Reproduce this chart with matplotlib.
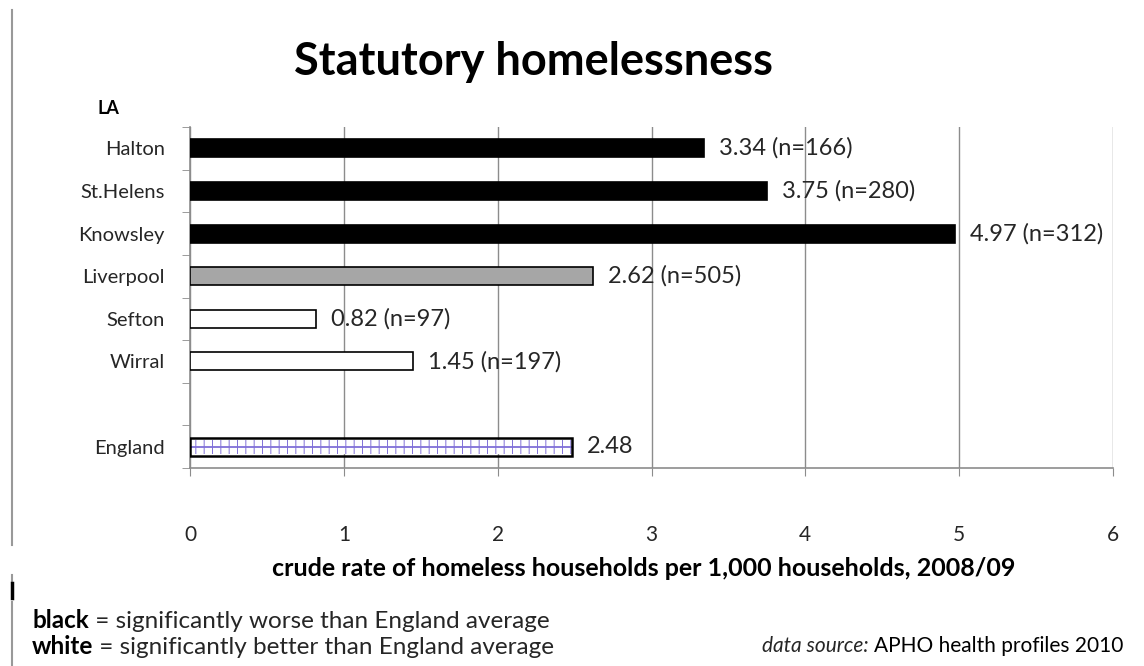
import matplotlib
matplotlib.use("Agg")
import matplotlib.pyplot as plt
from matplotlib.lines import Line2D
import numpy as np

categories = ["Halton", "St.Helens", "Knowsley", "Liverpool", "Sefton", "Wirral", "", "England"]
values = [3.34, 3.75, 4.97, 2.62, 0.82, 1.45, None, 2.48]
labels = ["3.34 (n=166)", "3.75 (n=280)", "4.97 (n=312)", "2.62 (n=505)", "0.82 (n=97)", "1.45 (n=197)", "", "2.48"]
fills = ["black", "black", "black", "#a6a6a6", "white", "white", None, "white"]
xticks = [0, 1, 2, 3, 4, 5, 6]

plt.rcParams['font.family'] = ['Lato', 'DejaVu Sans']
plt.rcParams['hatch.linewidth'] = 0.7

W, H = 1144, 666
fig = plt.figure(figsize=(W/100, H/100), dpi=100)
ax = fig.add_axes([190/W, 1 - 468/H, (1113 - 190)/W, (468 - 127)/H])

n = len(categories)
ypos = np.arange(n)
grid_c = "#8c8c8c"
txt_c = "#262626"
bar_h = 0.42
hatch_c = "#8070d8"

for i, (v, f, lab) in enumerate(zip(values, fills, labels)):
    if v is None:
        continue
    if categories[i] == "England":
        ax.barh(i, v, height=bar_h * 0.8, color="white", edgecolor=hatch_c, hatch="||", linewidth=0, zorder=3)
        ax.plot([0, v], [i, i], color=hatch_c, lw=1.3, zorder=4)
        ax.barh(i, v, height=bar_h, color="none", edgecolor="black", linewidth=1.8, zorder=5)
    else:
        ax.barh(i, v, height=bar_h, color=f, edgecolor="black", linewidth=1.2, zorder=3)
    ax.annotate(lab, (v, i), xytext=(11, 0), textcoords="offset points",
                va="center", ha="left", fontsize=17, color=txt_c, zorder=6)

ax.set_xlim(0, 6)
ax.set_ylim(n - 0.5, -0.5)
ax.set_xticks(xticks)
ax.set_xticklabels([str(t) for t in xticks], fontsize=15, color=txt_c)
ax.set_yticks(ypos)
ax.set_yticklabels(categories, fontsize=14.5, color=txt_c)
ax.set_yticks(np.arange(n + 1) - 0.5, minor=True)
ax.tick_params(axis="y", which="major", length=0, pad=18)
ax.tick_params(axis="y", which="minor", length=6, color=grid_c, direction="out")
ax.tick_params(axis="x", which="major", length=6, color=grid_c, pad=35, direction="out")

ax.grid(axis="x", color=grid_c, linewidth=1.0, zorder=0)
ax.set_axisbelow(True)
for s in ["top", "right"]:
    ax.spines[s].set_visible(False)
for s in ["left", "bottom"]:
    ax.spines[s].set_color(grid_c)
    ax.spines[s].set_linewidth(1.2)

fig.text(534/W, 1 - 75/H, "Statutory homelessness", fontsize=32.5, fontweight="bold",
         ha="center", va="baseline", color="black")
fig.text(108/W, 1 - 108/H, "LA", fontsize=13, fontweight="bold", ha="center", va="center", color="black")
fig.text(644/W, 1 - 568/H, "crude rate of homeless households per 1,000 households, 2008/09",
         fontsize=18, fontweight="bold", ha="center", va="center", color="black")

fig.canvas.draw()
renderer = fig.canvas.get_renderer()


def draw_runs(x_px, y_px, runs, ha="left"):
    """Draw consecutive text runs [(text, kwargs)] starting at pixel x."""
    artists = []
    widths = []
    for s, kw in runs:
        t = fig.text(0, 1 - y_px/H, s, va="center", ha="left", **kw)
        bb = t.get_window_extent(renderer)
        artists.append(t)
        widths.append(bb.width)
    total = sum(widths)
    x = x_px if ha == "left" else x_px - total
    for t, w in zip(artists, widths):
        t.set_x(x / W)
        x += w


draw_runs(32, 621, [("black", dict(fontsize=17.5, fontweight="bold", color="black")),
                    (" = significantly worse than England average", dict(fontsize=17.5, color=txt_c))])
draw_runs(32, 647, [("white", dict(fontsize=17.5, fontweight="bold", color="black")),
                    (" = significantly better than England average", dict(fontsize=17.5, color=txt_c))])
draw_runs(1123, 646, [("data source: ", dict(fontsize=15, style="italic", color=txt_c)),
                      ("APHO health profiles 2010", dict(fontsize=15, color="black"))], ha="right")

# page border fragments on the left
for (y0, y1, c, lw) in [(10, 545, "#999999", 1.5), (575, 582, "#999999", 1.5), (583, 598, "black", 2.5),
                        (602, 610, "#999999", 1.5), (612, 666, "#999999", 1.5)]:
    fig.add_artist(Line2D([12/W, 12/W], [1 - y0/H, 1 - y1/H], color=c, lw=lw))

fig.savefig("out.png", dpi=100)
